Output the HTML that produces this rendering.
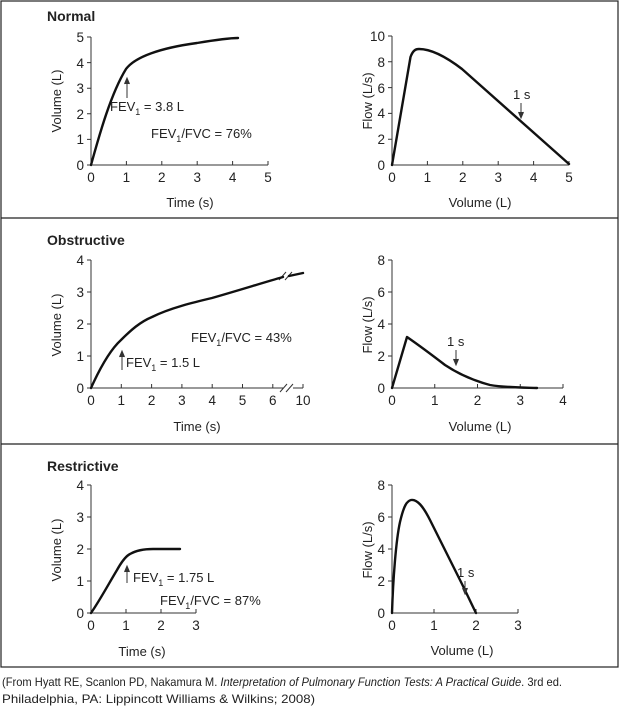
<!DOCTYPE html>
<html><head><meta charset="utf-8"><style>
body{margin:0;background:#fff}
svg{display:block}
text{font-family:"Liberation Sans",sans-serif;fill:#222}
.t{font-size:13.5px}
.l{font-size:13px}
.h{font-size:14px;font-weight:bold}
.c{stroke:#111;stroke-width:2.4;fill:none;stroke-linejoin:round;stroke-linecap:round}
.a{stroke:#333;stroke-width:1;fill:none}
</style></head><body>
<svg width="621" height="707" viewBox="0 0 621 707">
<rect x="1" y="1" width="617" height="666" fill="none" stroke="#222" stroke-width="1.2"/>
<line x1="1" y1="218" x2="618" y2="218" stroke="#222" stroke-width="1.2"/>
<line x1="1" y1="444" x2="618" y2="444" stroke="#222" stroke-width="1.2"/>

<text class="h" x="47" y="21">Normal</text>
<text class="h" x="47" y="245">Obstructive</text>
<text class="h" x="47" y="471">Restrictive</text>

<!-- Normal left -->
<g>
<path class="a" d="M91,37V165H268"/>
<g class="a"><path d="M87,37H91M87,62.6H91M87,88.2H91M87,113.8H91M87,139.4H91M87,165H91"/>
<path d="M126.4,165V161M161.8,165V161M197.2,165V161M232.6,165V161M268,165V161"/></g>
<g class="t" text-anchor="end"><text x="84" y="42">5</text><text x="84" y="68">4</text><text x="84" y="93">3</text><text x="84" y="119">2</text><text x="84" y="144">1</text><text x="84" y="170">0</text></g>
<g class="t" text-anchor="middle"><text x="91" y="182">0</text><text x="126.4" y="182">1</text><text x="161.8" y="182">2</text><text x="197.2" y="182">3</text><text x="232.6" y="182">4</text><text x="268" y="182">5</text></g>
<text class="l" x="190" y="207" text-anchor="middle">Time (s)</text>
<text class="l" transform="translate(61,101) rotate(-90)" text-anchor="middle">Volume (L)</text>
<path class="c" d="M91,165 C98,140 110,95 126,69 C135,57 160,48 197,43 C215,40 230,38 238,38"/>
<path class="a" d="M127,98V80M124.5,84L127,78L129.5,84" style="fill:#333"/>
<text class="l" x="110" y="111">FEV<tspan font-size="9" dy="4">1</tspan><tspan dy="-4"> = 3.8 L</tspan></text>
<text class="l" x="151" y="138">FEV<tspan font-size="9" dy="4">1</tspan><tspan dy="-4">/FVC = 76%</tspan></text>
</g>

<!-- Normal right -->
<g>
<path class="a" d="M392,36V165H569"/>
<g class="a"><path d="M388,36H392M388,61.8H392M388,87.6H392M388,113.4H392M388,139.2H392"/>
<path d="M427.4,165V161M462.8,165V161M498.2,165V161M533.6,165V161M569,165V161"/></g>
<g class="t" text-anchor="end"><text x="385" y="41">10</text><text x="385" y="67">8</text><text x="385" y="93">6</text><text x="385" y="118">4</text><text x="385" y="144">2</text><text x="385" y="170">0</text></g>
<g class="t" text-anchor="middle"><text x="392" y="182">0</text><text x="427.4" y="182">1</text><text x="462.8" y="182">2</text><text x="498.2" y="182">3</text><text x="533.6" y="182">4</text><text x="569" y="182">5</text></g>
<text class="l" x="480" y="207" text-anchor="middle">Volume (L)</text>
<text class="l" transform="translate(372,101) rotate(-90)" text-anchor="middle">Flow (L/s)</text>
<path class="c" d="M392,165 L410.5,57 C413,50 416,49 419,49 C430,49 445,56 462,69 L569,164"/>
<path class="a" d="M521,103V117M518.5,112L521,118L523.5,112" style="fill:#333"/>
<text class="l" x="513" y="99">1 s</text>
</g>

<!-- Obstructive left -->
<g>
<path class="a" d="M91,260V388H283M293,388H303"/>
<g class="a"><path d="M87,260H91M87,292H91M87,324H91M87,356H91M87,388H91"/>
<path d="M121.3,388V384M151.6,388V384M181.9,388V384M212.2,388V384M242.5,388V384M272.8,388V384M303,388V384"/>
<path d="M280,392L287,384M286,392L293,384"/>
<path d="M279,280L286,272M285,280L292,272"/></g>
<g class="t" text-anchor="end"><text x="84" y="265">4</text><text x="84" y="297">3</text><text x="84" y="329">2</text><text x="84" y="361">1</text><text x="84" y="393">0</text></g>
<g class="t" text-anchor="middle"><text x="91" y="405">0</text><text x="121.3" y="405">1</text><text x="151.6" y="405">2</text><text x="181.9" y="405">3</text><text x="212.2" y="405">4</text><text x="242.5" y="405">5</text><text x="272.8" y="405">6</text><text x="303" y="405">10</text></g>
<text class="l" x="197" y="431" text-anchor="middle">Time (s)</text>
<text class="l" transform="translate(61,325) rotate(-90)" text-anchor="middle">Volume (L)</text>
<path class="c" d="M91,388 C100,368 110,350 121,340 C131,330 140,322 152,317 C170,308 195,302 212,298 C240,290 262,283 283,277"/>
<path class="c" d="M289,276 L303,273"/>
<path class="a" d="M122,370V352M119.5,357L122,351L124.5,357" style="fill:#333"/>
<text class="l" x="126" y="367">FEV<tspan font-size="9" dy="4">1</tspan><tspan dy="-4"> = 1.5 L</tspan></text>
<text class="l" x="191" y="342">FEV<tspan font-size="9" dy="4">1</tspan><tspan dy="-4">/FVC = 43%</tspan></text>
</g>

<!-- Obstructive right -->
<g>
<path class="a" d="M392,260V388H563"/>
<g class="a"><path d="M388,260H392M388,292H392M388,324H392M388,356H392"/>
<path d="M434.75,388V384M477.5,388V384M520.25,388V384M563,388V384"/></g>
<g class="t" text-anchor="end"><text x="385" y="265">8</text><text x="385" y="297">6</text><text x="385" y="329">4</text><text x="385" y="361">2</text><text x="385" y="393">0</text></g>
<g class="t" text-anchor="middle"><text x="392" y="405">0</text><text x="434.75" y="405">1</text><text x="477.5" y="405">2</text><text x="520.25" y="405">3</text><text x="563" y="405">4</text></g>
<text class="l" x="480" y="431" text-anchor="middle">Volume (L)</text>
<text class="l" transform="translate(372,325) rotate(-90)" text-anchor="middle">Flow (L/s)</text>
<path class="c" d="M392,388 L407,337 C420,346 432,355 445,365 C460,375 475,381 490,385 C505,387.5 520,387.5 537,388"/>
<path class="a" d="M456,350V364M453.5,359L456,365L458.5,359" style="fill:#333"/>
<text class="l" x="447" y="346">1 s</text>
</g>

<!-- Restrictive left -->
<g>
<path class="a" d="M91,485V613H196"/>
<g class="a"><path d="M87,485H91M87,517H91M87,549H91M87,581H91M87,613H91"/>
<path d="M126,613V609M161,613V609M196,613V609"/></g>
<g class="t" text-anchor="end"><text x="84" y="490">4</text><text x="84" y="522">3</text><text x="84" y="554">2</text><text x="84" y="586">1</text><text x="84" y="618">0</text></g>
<g class="t" text-anchor="middle"><text x="91" y="630">0</text><text x="126" y="630">1</text><text x="161" y="630">2</text><text x="196" y="630">3</text></g>
<text class="l" x="142" y="656" text-anchor="middle">Time (s)</text>
<text class="l" transform="translate(61,550) rotate(-90)" text-anchor="middle">Volume (L)</text>
<path class="c" d="M91,613 C100,600 108,585 117,570 C122,561 126,556 130,554 C137,550 145,549 153,549 L180,549"/>
<path class="a" d="M127,583V567M124.5,572L127,566L129.5,572" style="fill:#333"/>
<text class="l" x="133" y="582">FEV<tspan font-size="9" dy="4">1</tspan><tspan dy="-4"> = 1.75 L</tspan></text>
<text class="l" x="160" y="605">FEV<tspan font-size="9" dy="4">1</tspan><tspan dy="-4">/FVC = 87%</tspan></text>
</g>

<!-- Restrictive right -->
<g>
<path class="a" d="M392,485V613H518"/>
<g class="a"><path d="M388,485H392M388,517H392M388,549H392M388,581H392"/>
<path d="M434,613V609M476,613V609M518,613V609"/></g>
<g class="t" text-anchor="end"><text x="385" y="490">8</text><text x="385" y="522">6</text><text x="385" y="554">4</text><text x="385" y="586">2</text><text x="385" y="618">0</text></g>
<g class="t" text-anchor="middle"><text x="392" y="630">0</text><text x="434" y="630">1</text><text x="476" y="630">2</text><text x="518" y="630">3</text></g>
<text class="l" x="462" y="655" text-anchor="middle">Volume (L)</text>
<text class="l" transform="translate(372,550) rotate(-90)" text-anchor="middle">Flow (L/s)</text>
<path class="c" d="M392,613 C393,580 396,540 400,522 C404,505 407,501 411,500 C417,499 423,506 430,520 C440,540 450,560 460,580 C466,592 471,603 476,613"/>
<path class="a" d="M465,581V593M462.5,588L465,594L467.5,588" style="fill:#333"/>
<text class="l" x="457" y="577">1 s</text>
</g>

<text x="2" y="686" font-size="12" textLength="560" lengthAdjust="spacingAndGlyphs">(From Hyatt RE, Scanlon PD, Nakamura M. <tspan font-style="italic">Interpretation of Pulmonary Function Tests: A Practical Guide</tspan>. 3rd ed.</text>
<text x="2" y="703" font-size="12" textLength="313" lengthAdjust="spacingAndGlyphs">Philadelphia, PA: Lippincott Williams &amp; Wilkins; 2008)</text>
</svg>
</body></html>
